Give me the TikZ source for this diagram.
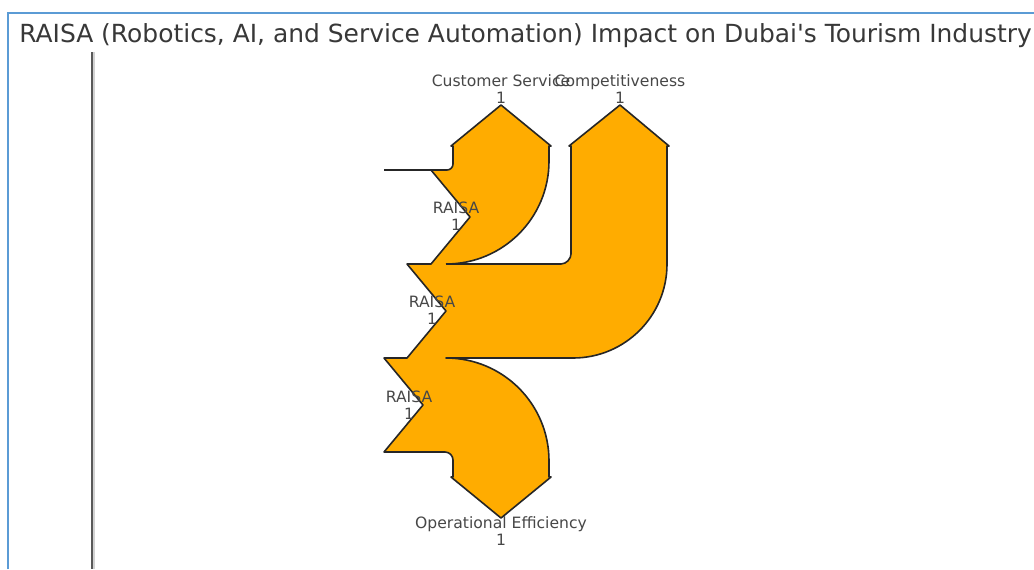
\documentclass[tikz,border=0pt]{standalone}
\usepackage{fontspec}
\setmainfont{DejaVu Sans}
\newfontfamily\djv{DejaVu Sans}
\usetikzlibrary{positioning}
\definecolor{flow}{RGB}{255,172,0}
\definecolor{frameblue}{RGB}{91,155,213}

\begin{document}
\begin{tikzpicture}[x=0.75pt,y=-0.75pt,
                    outline/.style={draw=black!85,line width=1.2pt,line join=round},
                    lbl/.style={text=black!72,font=\djv\fontsize{11.7}{13}\selectfont,align=center,inner sep=0pt}]

\useasboundingbox (0,0) rectangle (1034,569);
\fill[white] (0,0) rectangle (1034,569);

% window frame and axis
\draw[frameblue,line width=1.5pt] (8,569) -- (8,13) -- (1034,13);
\draw[gray!35,line width=0.8pt] (94,52) -- (94,569);
\draw[black!65,line width=1.4pt] (92,52) -- (92,569);

\node[anchor=west,inner sep=0pt,text=black!78,font=\djv\fontsize{18.7}{20}\selectfont]
  (title) at (19,36) {RAISA (Robotics, AI, and Service Automation) Impact on Dubai's Tourism Industry};

% the three flows
\fill[flow]
  (431,170) -- (447,170) .. controls (450.3,170) and (453,167.3) .. (453,164) -- (453,146) -- (451,146)
    -- (501,105) -- (551,146) -- (549,146) -- (549,161) .. controls (549,218) and (503,264) .. (446,264)
    -- (431,264) -- (470,217) -- cycle
  (407,264) -- (561,264) .. controls (566.5,264) and (571,258.5) .. (571,254) -- (571,146) -- (569,146)
    -- (620,105) -- (669,146) -- (667,146) -- (667,264) .. controls (667,316) and (625,358) .. (573,358)
    -- (407,358) -- (446,311) -- cycle
  (384,358) -- (446,358) .. controls (503,358) and (549,404) .. (549,461) -- (549,477) -- (551,477)
    -- (501,518) -- (451,477) -- (453,477) -- (453,460) .. controls (453,455.6) and (449.4,452) .. (445,452)
    -- (384,452) -- (423,405) -- cycle;

\draw[outline] (384,170) -- (447,170) .. controls (450.3,170) and (453,167.3) .. (453,164) -- (453,146)
  -- (451,146) -- (501,105) -- (551,146) -- (549,146) -- (549,161) .. controls (549,218) and (503,264) .. (446,264);
\draw[outline] (431,170) -- (470,217) -- (431,264) -- (407,264) -- (446,311) -- (407,358) -- (384,358)
  -- (423,405) -- (384,452) -- (445,452) .. controls (449.4,452) and (453,455.6) .. (453,460) -- (453,477)
  -- (451,477) -- (501,518) -- (551,477) -- (549,477) -- (549,461) .. controls (549,404) and (503,358) .. (446,358)
  -- (573,358) .. controls (625,358) and (667,316) .. (667,264) -- (667,146) -- (669,146) -- (620,105)
  -- (569,146) -- (571,146) -- (571,254) .. controls (571,258.5) and (566.5,264) .. (561,264) -- (446,264);

% labels
\node[lbl] (cs)   at (501,89)  {Customer Service\\1};
\node[lbl] (comp) at (620,89)  {Competitiveness\\1};
\node[lbl] (r1)   at (456,216) {RAISA\\1};
\node[lbl] (r2)   at (432,310) {RAISA\\1};
\node[lbl] (r3)   at (409,405) {RAISA\\1};
\node[lbl] (oe)   at (501,531) {Operational Efficiency\\1};

\end{tikzpicture}
\end{document}
